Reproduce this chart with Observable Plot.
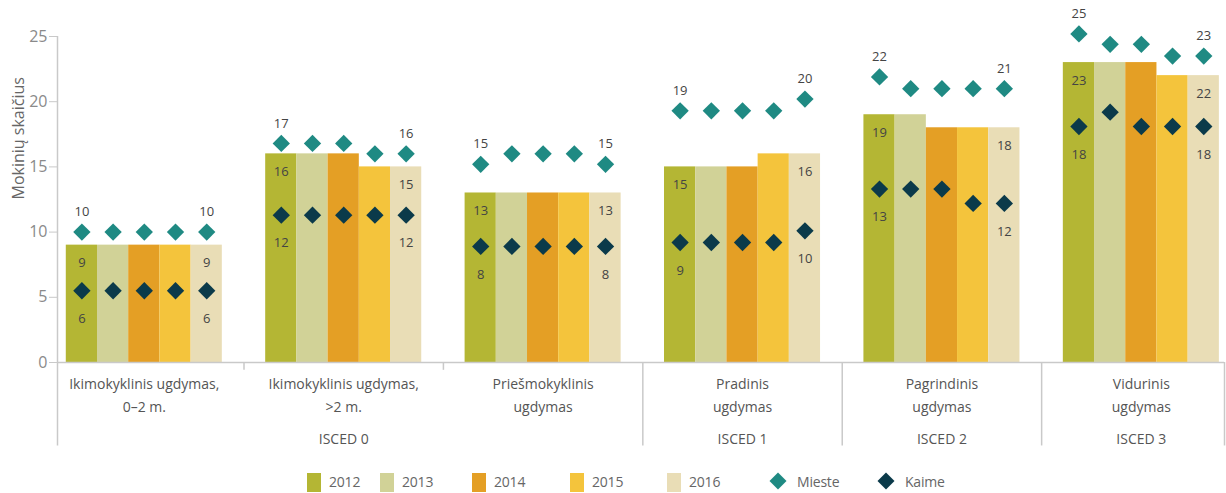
<!DOCTYPE html>
<html>
<head>
<meta charset="utf-8">
<script src="https://cdn.jsdelivr.net/npm/d3@7"></script>
<script src="https://cdn.jsdelivr.net/npm/@observablehq/plot@0.6"></script>
<style>
  body { margin: 0; background: #fff; font-family: "Open Sans", sans-serif; }
  #wrap { position: relative; width: 1226px; height: 493px; overflow: hidden; }
  #legend { position: absolute; left: 0; top: 465px; width: 1226px; height: 28px; }
  .sw { position: absolute; top: 8px; width: 14px; height: 19px; }
  .lt { position: absolute; top: 7px; font-size: 14px; line-height: 20px; color: #666; letter-spacing: -0.2px; }
  .dm { position: absolute; top: 10px; width: 12px; height: 12px; transform: rotate(45deg); }
</style>
</head>
<body>
<div id="wrap"><div id="chart"></div><div id="legend"></div></div>
<script>
// ---- data ----
const categories = [
  "Ikimokyklinis ugdymas,\n0–2 m.",
  "Ikimokyklinis ugdymas,\n>2 m.",
  "Priešmokyklinis\nugdymas",
  "Pradinis\nugdymas",
  "Pagrindinis\nugdymas",
  "Vidurinis\nugdymas"
];
const years = ["2012", "2013", "2014", "2015", "2016"];
const v2012 = [9, 16, 13, 15, 19, 23];
const v2013 = [9, 16, 13, 15, 19, 23];
const v2014 = [9, 16, 13, 15, 18, 23];
const v2015 = [9, 15, 13, 16, 18, 22];
const v2016 = [9, 15, 13, 16, 18, 22];
// Mieste (town) and Kaime (village) per category, 2012..2016
const mieste = [
  [10.0, 10.0, 10.0, 10.0, 10.0],
  [16.8, 16.8, 16.8, 16.0, 16.0],
  [15.2, 16.0, 16.0, 16.0, 15.2],
  [19.3, 19.3, 19.3, 19.3, 20.2],
  [21.9, 21.0, 21.0, 21.0, 21.0],
  [25.2, 24.4, 24.4, 23.5, 23.5]
];
const kaime = [
  [5.5, 5.5, 5.5, 5.5, 5.5],
  [11.3, 11.3, 11.3, 11.3, 11.3],
  [8.9, 8.9, 8.9, 8.9, 8.9],
  [9.2, 9.2, 9.2, 9.2, 10.1],
  [13.3, 13.3, 13.3, 12.2, 12.2],
  [18.1, 19.2, 18.1, 18.1, 18.1]
];
// printed labels (first and last year)
const miesteLabels = [[10, 10], [17, 16], [15, 15], [19, 20], [22, 21], [25, 23]];
const kaimeLabels = [[6, 6], [12, 12], [8, 8], [9, 10], [13, 12], [18, 18]];
const iscedLabels = ["ISCED 0", "ISCED 1", "ISCED 2", "ISCED 3"];
const iscedAt = [1, 3, 4, 5];
const yTicks = [0, 5, 10, 15, 20, 25];
const yTitle = "Mokinių skaičius";
const seriesNames = ["Mieste", "Kaime"];

// ---- style ----
const yearColors = ["#b4b634", "#d1d297", "#e49f25", "#f4c43c", "#e9ddb6"];
const miesteColor = "#1f8a83";
const kaimeColor = "#0b3a4a";
const lineColor = "#c9c9c9";
const bw = 0.1565;          // bar width in group units
const sepDepth = 6.4;       // how far separators reach below the axis (y units)

const series = [v2012, v2013, v2014, v2015, v2016];
const rows = [];
categories.forEach((c, g) => {
  years.forEach((yr, i) => {
    rows.push({g, i, year: yr, x: g + (i - 2) * bw, value: series[i][g],
      mieste: mieste[g][i], kaime: kaime[g][i], edge: i === 0 || i === 4,
      mLab: i === 0 ? miesteLabels[g][0] : i === 4 ? miesteLabels[g][1] : null,
      kLab: i === 0 ? kaimeLabels[g][0] : i === 4 ? kaimeLabels[g][1] : null});
  });
});
const labeled = rows.filter(d => d.edge);
const xMin = -0.4353, xMax = 5.417;

const chart = Plot.plot({
  width: 1226,
  height: 465,
  marginLeft: 57,
  marginRight: 2,
  marginTop: 36,
  marginBottom: 103,
  style: {fontFamily: "'Open Sans', sans-serif", color: "#8a8a8a", background: "#fff"},
  x: {type: "linear", domain: [xMin, xMax], axis: null},
  y: {domain: [0, 25], axis: null},
  marks: [
    Plot.rect(rows, {x1: d => d.x - bw / 2, x2: d => d.x + bw / 2, y1: 0, y2: "value",
      fill: d => yearColors[d.i]}),
    Plot.ruleY([0], {x1: xMin, x2: xMax, stroke: lineColor, strokeWidth: 1.5}),
    Plot.ruleX([xMin], {y1: 25, y2: -sepDepth, stroke: lineColor, strokeWidth: 1.5}),
    Plot.ruleX([0.5, 1.5], {y1: 0, y2: -0.6, stroke: lineColor, strokeWidth: 1.5}),
    Plot.ruleX([2.5, 3.5, 4.5, xMax], {y1: 0, y2: -sepDepth, stroke: lineColor, strokeWidth: 1.5}),
    Plot.axisY({ticks: yTicks, tickSize: 8, tickPadding: 2, fontSize: 16, stroke: lineColor, fill: "#8a8a8a", label: null}),
    Plot.dot(rows, {x: "x", y: "mieste", symbol: "diamond2", r: 7.8, fill: miesteColor}),
    Plot.dot(rows, {x: "x", y: "kaime", symbol: "diamond2", r: 7.8, fill: kaimeColor}),
    Plot.text(labeled, {x: "x", y: "value", text: d => String(d.value), dy: 18, fontSize: 13, fill: "#444"}),
    Plot.text(labeled, {x: "x", y: "mieste", text: d => String(d.mLab), dy: -20, fontSize: 13, fill: "#444"}),
    Plot.text(labeled, {x: "x", y: "kaime", text: d => String(d.kLab), dy: 28, fontSize: 13, fill: "#444"}),
    Plot.text(categories, {x: (d, i) => i, y: 0, text: d => d, dy: 10, lineAnchor: "top",
      lineHeight: 1.64, fontSize: 14, fill: "#555", style: "letter-spacing:-0.4px"}),
    Plot.text(iscedLabels, {x: (d, i) => iscedAt[i], y: 0, text: d => d, dy: 72, lineAnchor: "top",
      fontSize: 14, fill: "#555", style: "letter-spacing:-0.4px"}),
    Plot.text([yTitle], {frameAnchor: "left", text: d => d, rotate: -90, dx: -39, fontSize: 16, fill: "#666"})
  ]
});
document.getElementById("chart").appendChild(chart);

// ---- legend ----
const legend = document.getElementById("legend");
const swX = [307, 380, 472, 570, 667];
years.forEach((yr, i) => {
  const s = document.createElement("div");
  s.className = "sw"; s.style.left = swX[i] + "px"; s.style.background = yearColors[i];
  legend.appendChild(s);
  const t = document.createElement("div");
  t.className = "lt"; t.style.left = (swX[i] + 22) + "px"; t.textContent = yr;
  legend.appendChild(t);
});
const dmX = [778, 886];
[miesteColor, kaimeColor].forEach((c, i) => {
  const d = document.createElement("div");
  d.className = "dm"; d.style.left = (dmX[i] - 6) + "px"; d.style.background = c;
  legend.appendChild(d);
  const t = document.createElement("div");
  t.className = "lt"; t.style.left = (dmX[i] + 19) + "px"; t.textContent = seriesNames[i];
  legend.appendChild(t);
});
</script>
</body>
</html>
